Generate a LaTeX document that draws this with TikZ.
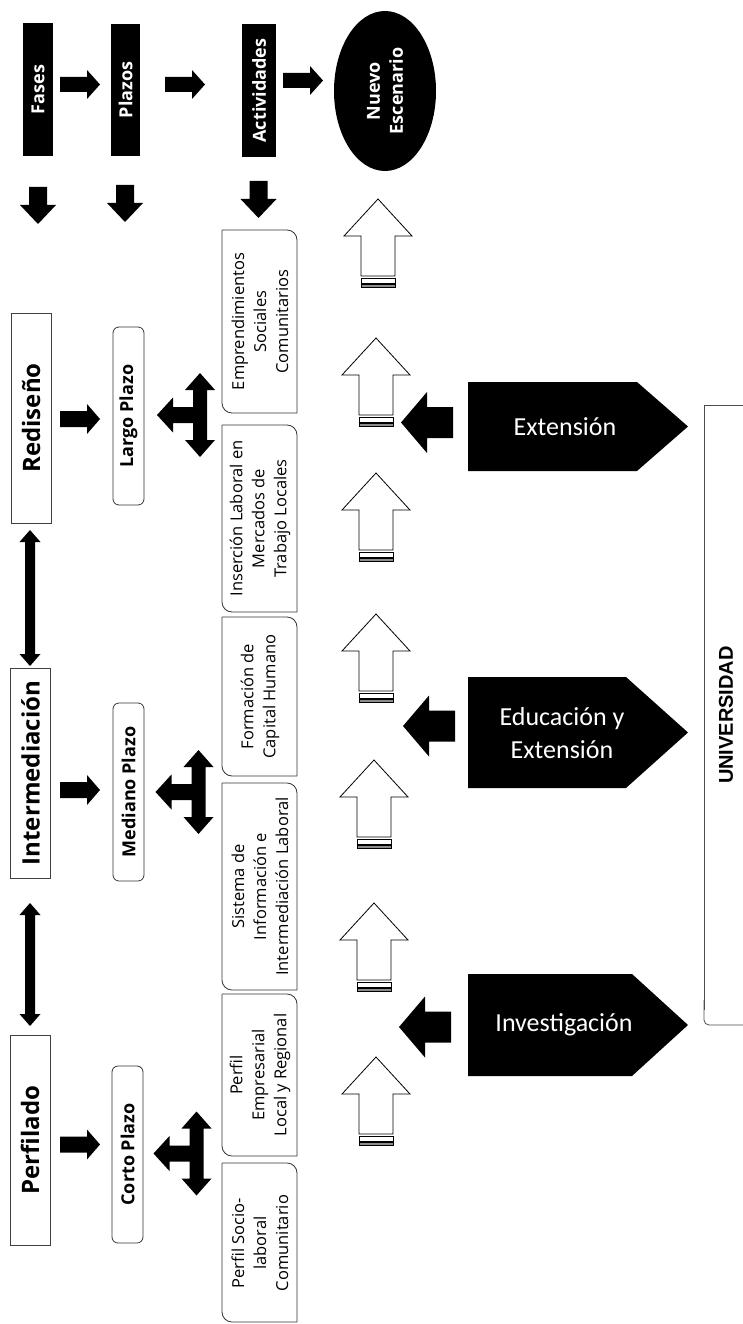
\documentclass[tikz,border=0pt]{standalone}
\usepackage{fontspec}
\setmainfont{Open Sans}
\newfontfamily\calibrifont{Carlito}
\newfontfamily\arialfont{Liberation Sans}
\usetikzlibrary{shapes.geometric}

\tikzset{
  headbox/.style={fill=black, text=white, rotate=90, inner sep=0pt, font=\bfseries\fontsize{18}{23}\selectfont},
  phasebox/.style={draw=black!75, line width=0.8pt, fill=white, rotate=90, minimum width=210, minimum height=40, inner sep=0pt, font=\bfseries\fontsize{24}{28}\selectfont},
  plazobox/.style={draw=black!80, line width=0.8pt, rounded corners=6pt, rotate=90, minimum width=178, minimum height=31, inner sep=0pt, font=\bfseries\fontsize{18}{22}\selectfont},
  acttext/.style={rotate=90, align=center, inner sep=0pt, font=\fontsize{16.5}{22}\selectfont},
  actline/.style={draw=black!80, line width=0.8pt, rounded corners=10pt},
  areatext/.style={text=white, align=center, inner sep=0pt, font=\calibrifont\fontsize{26}{33}\selectfont},
  hollow/.style={draw=black, line width=0.8pt, fill=white}
}

\begin{document}
\begin{tikzpicture}[x=1pt, y=-1pt]
\useasboundingbox (0,0) rectangle (742,1324);

% Header row
\node[headbox, minimum width=133, minimum height=30] (fases) at (38,89.5) {Fases};
\node[headbox, minimum width=132, minimum height=29] (plazos) at (125.5,90) {Plazos};
\node[headbox, minimum width=133, minimum height=34] (actividades) at (259,90.5) {Actividades};
\node[headbox, ellipse, minimum width=160, minimum height=102, align=center] (nuevo) at (385,91) {Nuevo\\Escenario};

% Arrows between headers
\foreach \x/\y in {60/84.5, 165/84.5, 283/80.5} {
  \fill (\x,\y-7.5) -- (\x+27,\y-7.5) -- (\x+27,\y-14.5) -- (\x+40,\y) -- (\x+27,\y+14.5) -- (\x+27,\y+7.5) -- (\x,\y+7.5) -- cycle;
}

% Arrows down from headers
\foreach \x/\y in {38/187, 125/185, 258.5/181} {
  \fill (\x-9,\y) -- (\x+9,\y) -- (\x+9,\y+18) -- (\x+18,\y+18) -- (\x,\y+37) -- (\x-18,\y+18) -- (\x-9,\y+18) -- cycle;
}

% Phases
\node[phasebox] (rediseno) at (31,418) {Rediseño};
\node[phasebox] (intermediacion) at (30.5,773) {Intermediación};
\node[phasebox] (perfilado) at (30,1140) {Perfilado};

% Double arrows between phases
\foreach \a/\b in {530/666, 903/1026} {
  \fill (30,\a) -- (40.5,\a+12) -- (35,\a+12) -- (35,\b-12) -- (40.5,\b-12) -- (30,\b) -- (19.5,\b-12) -- (25,\b-12) -- (25,\a+12) -- (19.5,\a+12) -- cycle;
}

% Phase to term arrows
\foreach \y in {419, 790, 1144.5} {
  \fill (60,\y-8) -- (87,\y-8) -- (87,\y-15) -- (100,\y) -- (87,\y+15) -- (87,\y+8) -- (60,\y+8) -- cycle;
}

% Terms
\node[plazobox] (largo) at (128.5,416) {Largo Plazo};
\node[plazobox] (mediano) at (128.5,792) {Mediano Plazo};
\node[plazobox, minimum width=177] (corto) at (127.5,1154.5) {Corto Plazo};

% Three way arrows
\foreach \x/\y in {200/415, 198.5/792, 196.5/1153.5} {
  \fill (\x,\y-42) -- (\x+15,\y-25) -- (\x+7,\y-25) -- (\x+7,\y+25) -- (\x+15,\y+25) -- (\x,\y+42) -- (\x-15,\y+25) -- (\x-7,\y+25) -- (\x-7,\y+8) -- (\x-27,\y+8) -- (\x-27,\y+17.5) -- (\x-43,\y) -- (\x-27,\y-17.5) -- (\x-27,\y-8) -- (\x-7,\y-8) -- (\x-7,\y-25) -- (\x-15,\y-25) -- cycle;
}

% Activity boxes
\foreach \a/\b in {230/413, 425/612, 617/776, 783/990, 994/1156, 1163/1322} {
  \draw[actline] (222,\a) -- (297,\a) -- (297,\b);
  \draw[actline] (297,\b) -- (222,\b) -- (222,\a);
}
\node[acttext] (emprend) at (260,321.5) {Emprendimientos\\Sociales\\Comunitarios};
\node[acttext] (insercion) at (260,518.5) {Inserción Laboral en\\Mercados de\\Trabajo Locales};
\node[acttext] (formacion) at (260,696.5) {Formación de\\Capital Humano};
\node[acttext] (sistema) at (260,886.5) {Sistema de\\Información e\\Intermediación Laboral};
\node[acttext] (perfilemp) at (260,1075) {Perfil\\Empresarial\\Local y Regional};
\node[acttext] (perfilsoc) at (260,1243) {Perfil Socio-\\laboral\\Comunitario};

% Hollow arrows
\foreach \x/\y in {378/199, 376/338, 376/473, 376/614, 374/760, 374/903, 376/1057} {
  \draw[hollow] (\x,\y) -- (\x+34,\y+37) -- (\x+17,\y+37) -- (\x+17,\y+77) -- (\x-17,\y+77) -- (\x-17,\y+37) -- (\x-34,\y+37) -- cycle;
  \draw[hollow] (\x-17,\y+79) rectangle (\x+17,\y+84);
  \draw[hollow, fill=black!45] (\x-17,\y+85) rectangle (\x+17,\y+88);
}

% Arrows from areas
\foreach \x/\y in {401/422.5, 403/726, 399/1027} {
  \fill (\x,\y) -- (\x+26,\y-30.5) -- (\x+26,\y-15.5) -- (\x+52,\y-15.5) -- (\x+52,\y+15.5) -- (\x+26,\y+15.5) -- (\x+26,\y+30.5) -- cycle;
}

% Areas
\fill (468,382) -- (637,382) -- (688,426.5) -- (637,471) -- (468,471) -- cycle;
\node[areatext] (extension) at (565,427) {Extensión};
\fill (468,677) -- (626,677) -- (688,732.5) -- (626,788) -- (468,788) -- cycle;
\node[areatext] (educacion) at (562,733) {Educación y\\Extensión};
\fill (468,974) -- (632,974) -- (688,1025) -- (632,1076) -- (468,1076) -- cycle;
\node[areatext] (investigacion) at (564,1025) {Investigación};

% Universidad bracket
\draw[black!70, line width=0.8pt] (750,405) -- (704,405) -- (704,1010);
\draw[black!70, line width=0.8pt, rounded corners=5pt] (704,1000) -- (704,1025) -- (750,1025);
\node[rotate=90, font=\arialfont\bfseries\fontsize{20}{24}\selectfont] (universidad) at (726,715) {UNIVERSIDAD};

\end{tikzpicture}
\end{document}
